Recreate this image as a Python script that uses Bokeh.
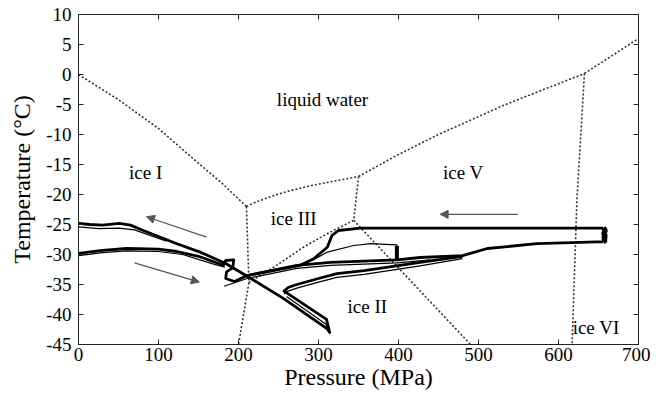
from bokeh.plotting import figure
from bokeh.models import (FixedTicker, LinearAxis, Range1d, Arrow, NormalHead,
                          ColumnDataSource, LabelSet, CustomJSTickFormatter)
from bokeh.embed import file_html
from bokeh.resources import INLINE

# ---------------- data ----------------
x_ticks = [0, 100, 200, 300, 400, 500, 600, 700]
y_ticks = [10, 5, 0, -5, -10, -15, -20, -25, -30, -35, -40, -45]

# phase boundaries (dotted)
ice1_liq_P = [0, 50, 100, 150, 180, 209.9]
ice1_liq_T = [0, -4.2, -9.0, -14.8, -18.2, -22.0]
ice3_liq_P = [209.9, 217.6, 236.6, 260.6, 290.9, 350.1]
ice3_liq_T = [-22.0, -21.5, -20.5, -19.5, -18.5, -17.0]
ice5_liq_P = [350.1, 397.6, 449.9, 533.7, 632.4]
ice5_liq_T = [-17.0, -13.5, -10.0, -5.0, 0.16]
ice6_liq_P = [632.4, 700]
ice6_liq_T = [0.16, 6.0]
ice1_3_P = [209.9, 213]
ice1_3_T = [-22.0, -34.7]
ice1_2_P = [213, 200]
ice1_2_T = [-34.7, -45]
ice2_3_P = [213, 250, 281, 310, 344]
ice2_3_T = [-34.7, -31.6, -28.8, -26.6, -24.3]
ice3_5_P = [350.1, 344]
ice3_5_T = [-17.0, -24.3]
ice2_5_P = [344, 490]
ice2_5_T = [-24.3, -45]
ice5_6_P = [632.4, 623, 617]
ice5_6_T = [0.16, -21, -45]

# measured paths (solid)
upper_P = [0, 14, 30, 51, 65, 81, 123, 152, 184, 213, 257, 311, 314, 310, 257,
           262, 273, 300, 323, 357, 427, 480]
upper_T = [-24.8, -25.0, -25.1, -24.8, -25.1, -26.0, -28.2, -29.6, -31.5, -33.8,
           -37.4, -42.4, -43.0, -40.8, -36.1, -35.5, -35.0, -34.0, -33.2, -32.7,
           -31.3, -30.3]
upper_thin_P = [0, 25, 50, 70, 85, 110]
upper_thin_T = [-25.4, -25.7, -25.6, -25.9, -26.6, -27.8]
rise_thin_P = [257, 262, 273, 300, 323, 357, 427, 480]
rise_thin_T = [-36.6, -36.1, -35.6, -34.6, -33.8, -33.3, -31.9, -30.7]
bottom_thin_P = [260, 309, 312]
bottom_thin_T = [-37.0, -41.6, -42.6]

lower_P = [0, 30, 60, 100, 123, 150, 169, 181, 184, 194, 193, 185, 184, 195,
           211, 273, 315, 398, 427, 480, 511, 573, 648, 656]
lower_T = [-29.8, -29.3, -29.0, -29.1, -29.5, -30.3, -31.2, -31.8, -31.0, -30.9,
           -32.2, -32.9, -34.0, -34.5, -33.5, -31.8, -31.3, -30.9, -30.5, -30.2,
           -29.0, -28.2, -27.9, -27.9]
lower_thin_P = [0, 30, 60, 100, 130, 169, 183]
lower_thin_T = [-30.2, -29.7, -29.4, -29.5, -30.0, -31.6, -32.1]
cross_thin_P = [182, 211, 273, 315, 398, 440]
cross_thin_T = [-35.3, -34.0, -32.3, -31.8, -31.4, -30.9]

ice3_path_P = [211, 277, 294, 311, 317, 325, 352, 500, 656]
ice3_path_T = [-33.5, -31.8, -30.7, -28.8, -26.8, -26.0, -25.6, -25.6, -25.6]
end_P = [656, 659, 656, 659, 656, 659, 656]
end_T = [-25.6, -26.0, -26.5, -26.9, -27.3, -27.6, -27.9]
branch_P = [277, 295, 311, 344, 365, 398, 398]
branch_T = [-31.8, -30.8, -29.6, -28.5, -28.2, -28.4, -31.0]
branch_end_P = [398, 398]
branch_end_T = [-28.6, -31.0]

# region labels
label_text = ["liquid water", "ice I", "ice III", "ice V", "ice II", "ice VI"]
label_P = [305, 84, 269, 481, 361, 647]
label_T = [-4.2, -16.3, -24.0, -16.3, -38.7, -42.2]

# arrows (tail -> head)
arrow_P0 = [160, 70, 549]
arrow_T0 = [-27.1, -31.4, -23.3]
arrow_P1 = [85, 151, 452]
arrow_T1 = [-23.7, -34.6, -23.3]

# ---------------- figure ----------------
FONT = "Liberation Serif"
AXFONT = "'Liberation Serif'"
p = figure(width=650, height=397, output_backend="svg", toolbar_location=None,
           x_range=Range1d(0, 700), y_range=Range1d(-45, 10),
           min_border_left=78, min_border_right=12, min_border_top=14,
           min_border_bottom=53)
p.xgrid.visible = False
p.ygrid.visible = False
p.outline_line_color = "#222222"
p.outline_line_width = 1
p.background_fill_color = "white"
p.border_fill_color = "white"

num_fmt = CustomJSTickFormatter(code="return tick.toFixed(0);")
blank_fmt = CustomJSTickFormatter(code="return '';")

def style_axis(ax, ticks, labels=True):
    ax.ticker = FixedTicker(ticks=ticks)
    ax.minor_tick_line_color = None
    ax.major_tick_in = 5
    ax.major_tick_out = 0
    ax.major_tick_line_color = "#222222"
    ax.axis_line_color = "#222222"
    ax.major_label_text_font = AXFONT
    ax.major_label_text_font_size = "19px"
    ax.major_label_text_color = "black"
    ax.axis_label_text_font = AXFONT
    ax.axis_label_text_font_size = "24px"
    ax.axis_label_text_font_style = "normal"
    ax.axis_label_text_color = "black"
    if labels:
        ax.formatter = num_fmt
    else:
        ax.formatter = blank_fmt
        ax.major_label_text_font_size = "0px"
        ax.major_label_standoff = 0

style_axis(p.xaxis[0], x_ticks)
style_axis(p.yaxis[0], y_ticks)
p.xaxis[0].axis_label = "Pressure (MPa)"
p.yaxis[0].axis_label = "Temperature (\u00b0C)"
p.xaxis[0].major_label_standoff = 3
p.yaxis[0].major_label_standoff = 7
p.xaxis[0].axis_label_standoff = 0
p.yaxis[0].axis_label_standoff = 8

top_ax = LinearAxis()
style_axis(top_ax, x_ticks, labels=False)
p.add_layout(top_ax, "above")
right_ax = LinearAxis()
style_axis(right_ax, y_ticks, labels=False)
p.add_layout(right_ax, "right")

# phase boundaries
DOT = dict(line_color="#333333", line_width=1.6, line_dash="2 2")
for P, T in [(ice1_liq_P, ice1_liq_T), (ice3_liq_P, ice3_liq_T),
             (ice5_liq_P, ice5_liq_T), (ice6_liq_P, ice6_liq_T),
             (ice1_3_P, ice1_3_T), (ice1_2_P, ice1_2_T), (ice2_3_P, ice2_3_T),
             (ice3_5_P, ice3_5_T), (ice2_5_P, ice2_5_T), (ice5_6_P, ice5_6_T)]:
    p.line(P, T, **DOT)

# measured paths
THICK = dict(line_color="black", line_width=2.8, line_join="round")
THIN = dict(line_color="black", line_width=1.2, line_join="round")
p.line(upper_P, upper_T, **THICK)
p.line(upper_thin_P, upper_thin_T, **THIN)
p.line(rise_thin_P, rise_thin_T, **THIN)
p.line(bottom_thin_P, bottom_thin_T, **THIN)
p.line(lower_P, lower_T, **THICK)
p.line(lower_thin_P, lower_thin_T, **THIN)
p.line(cross_thin_P, cross_thin_T, **THIN)
p.line(ice3_path_P, ice3_path_T, **THICK)
p.line(end_P, end_T, line_color="black", line_width=5)
p.line(branch_P, branch_T, **THIN)
p.line(branch_end_P, branch_end_T, line_color="black", line_width=4)

# arrows
for x0, y0, x1, y1 in zip(arrow_P0, arrow_T0, arrow_P1, arrow_T1):
    p.add_layout(Arrow(x_start=x0, y_start=y0, x_end=x1, y_end=y1,
                       line_color="#555555", line_width=1.2,
                       end=NormalHead(size=8, fill_color="#555555",
                                      line_color="#555555")))

# region labels
src = ColumnDataSource(dict(x=label_P, y=label_T, t=label_text))
p.add_layout(LabelSet(x="x", y="y", text="t", source=src,
                      text_font=FONT, text_font_size="19px",
                      text_align="center", text_baseline="middle",
                      text_color="black"))

open("out.html", "w").write(file_html(p, INLINE))
